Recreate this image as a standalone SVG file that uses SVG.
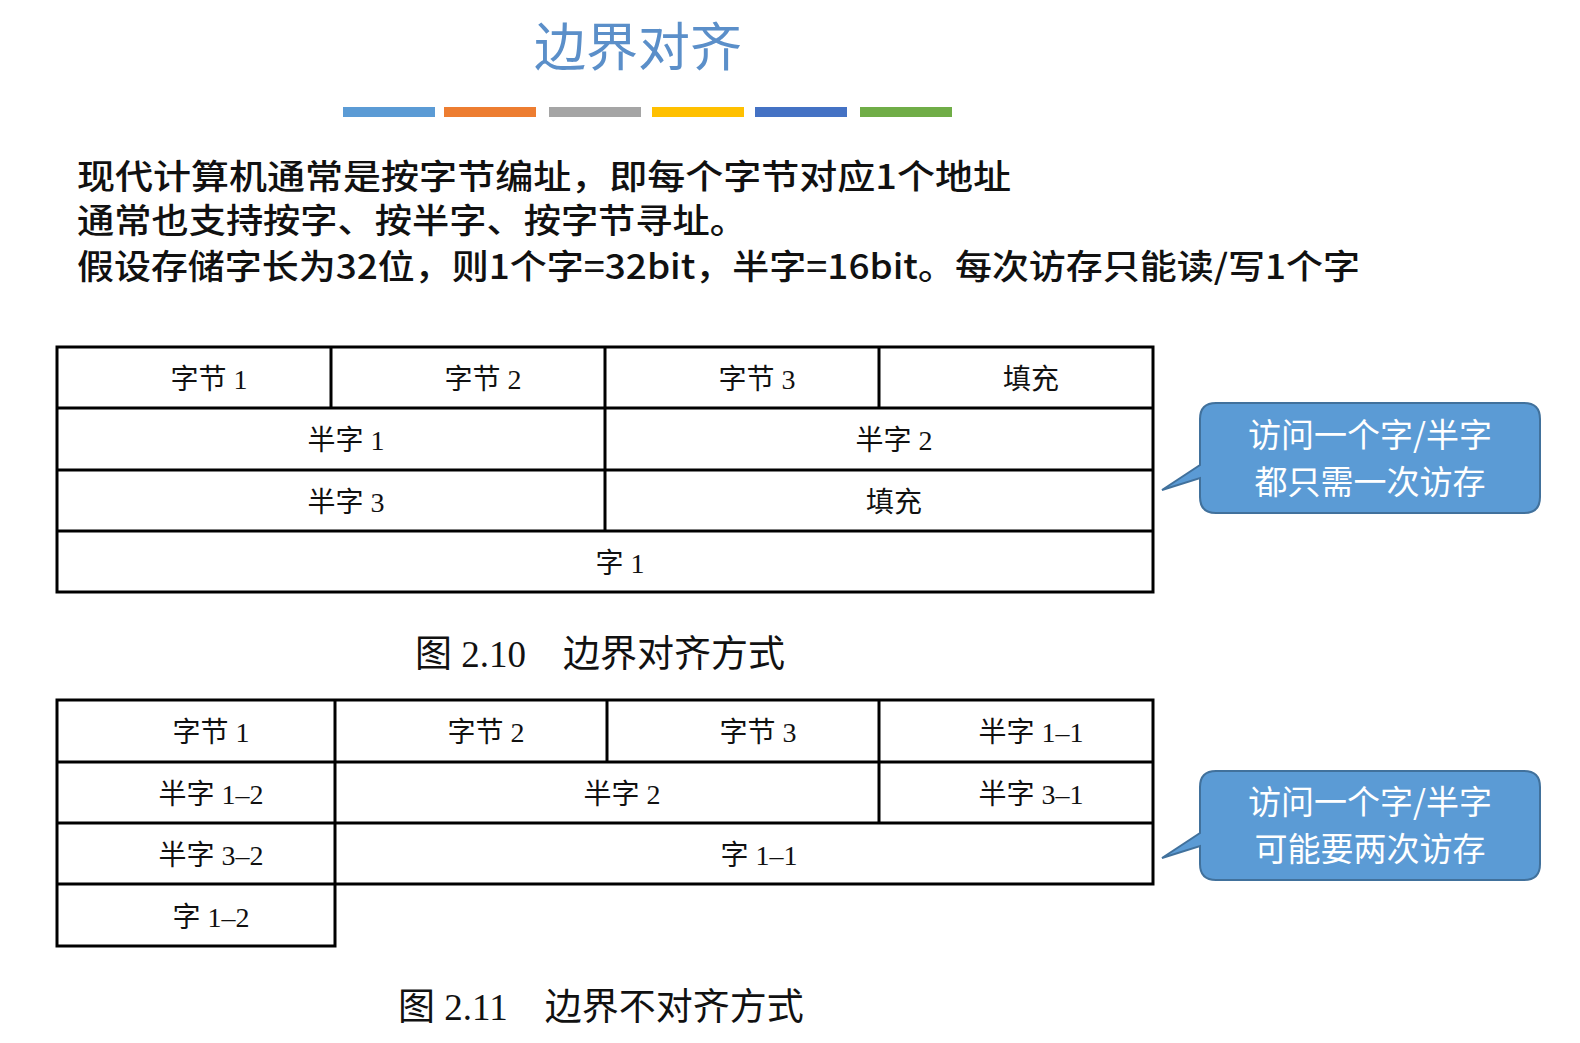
<svg xmlns="http://www.w3.org/2000/svg" width="1580" height="1043" viewBox="0 0 1580 1043">
<style>
.c{fill:none;stroke:#000;stroke-width:3}
.t{font-family:"Liberation Serif","Noto Sans CJK SC",serif;font-size:28px;text-anchor:middle;fill:#111}
.b{font-family:"Noto Sans CJK SC",sans-serif;font-size:34px;font-weight:500;fill:#111}
.cap{font-family:"Liberation Serif","Noto Sans CJK SC",serif;font-size:37px;fill:#111}
.co{fill:#5b9bd5;stroke:#41719c;stroke-width:2}
.ct{font-family:"Noto Sans CJK SC",sans-serif;font-size:33px;fill:#fff;text-anchor:middle}
</style>
<rect width="1580" height="1043" fill="#fff"/>
<text x="638" y="66" font-family="Noto Sans CJK SC,sans-serif" font-size="52" fill="#5b8fc9" text-anchor="middle">边界对齐</text>
<g>
<rect x="343" y="107" width="92" height="10" fill="#5b9bd5"/>
<rect x="444" y="107" width="92" height="10" fill="#ed7d31"/>
<rect x="549" y="107" width="92" height="10" fill="#a5a5a5"/>
<rect x="652" y="107" width="92" height="10" fill="#ffc000"/>
<rect x="755" y="107" width="92" height="10" fill="#4472c4"/>
<rect x="860" y="107" width="92" height="10" fill="#70ad47"/>
</g>
<text class="b" x="77" y="189" textLength="934" lengthAdjust="spacingAndGlyphs">现代计算机通常是按字节编址，即每个字节对应1个地址</text>
<text class="b" x="77" y="233" textLength="670" lengthAdjust="spacingAndGlyphs">通常也支持按字、按半字、按字节寻址。</text>
<text class="b" x="77" y="279" textLength="1283" lengthAdjust="spacingAndGlyphs">假设存储字长为32位，则1个字=32bit，半字=16bit。每次访存只能读/写1个字</text>
<g id="table1">
<rect class="c" x="57" y="347" width="1096" height="245"/>
<path class="c" d="M57 408H1153M57 470H1153M57 531H1153M331 347V408M605 347V531M879 347V408"/>
<text class="t" x="209" y="389">字节 1</text><text class="t" x="483" y="389">字节 2</text><text class="t" x="757" y="389">字节 3</text><text class="t" x="1031" y="389">填充</text>
<text class="t" x="346" y="450">半字 1</text><text class="t" x="894" y="450">半字 2</text>
<text class="t" x="346" y="512">半字 3</text><text class="t" x="894" y="512">填充</text>
<text class="t" x="620" y="573">字 1</text>
</g>
<text class="cap" x="415" y="667">图 2.10　边界对齐方式</text>
<g id="table2">
<path class="c" d="M57 700H1153V884H335V946H57ZM57 762H1153M57 823H1153M57 884H335M335 700V946M607 700V762M879 700V823"/>
<text class="t" x="211" y="742">字节 1</text><text class="t" x="486" y="742">字节 2</text><text class="t" x="758" y="742">字节 3</text><text class="t" x="1031" y="742">半字 1–1</text>
<text class="t" x="211" y="804">半字 1–2</text><text class="t" x="622" y="804">半字 2</text><text class="t" x="1031" y="804">半字 3–1</text>
<text class="t" x="211" y="865">半字 3–2</text><text class="t" x="759" y="865">字 1–1</text>
<text class="t" x="211" y="927">字 1–2</text>
</g>
<text class="cap" x="398" y="1020">图 2.11　边界不对齐方式</text>
<g id="callout1">
<path class="co" d="M1216 403H1524Q1540 403 1540 419V497Q1540 513 1524 513H1216Q1200 513 1200 497V478L1162 490L1200 465V419Q1200 403 1216 403Z"/>
<text class="ct" x="1370" y="447">访问一个字/半字</text><text class="ct" x="1370" y="494">都只需一次访存</text>
</g>
<g id="callout2">
<path class="co" d="M1216 771H1524Q1540 771 1540 787V864Q1540 880 1524 880H1216Q1200 880 1200 864V846L1162 858L1200 833V787Q1200 771 1216 771Z"/>
<text class="ct" x="1370" y="814">访问一个字/半字</text><text class="ct" x="1370" y="861">可能要两次访存</text>
</g>
</svg>
